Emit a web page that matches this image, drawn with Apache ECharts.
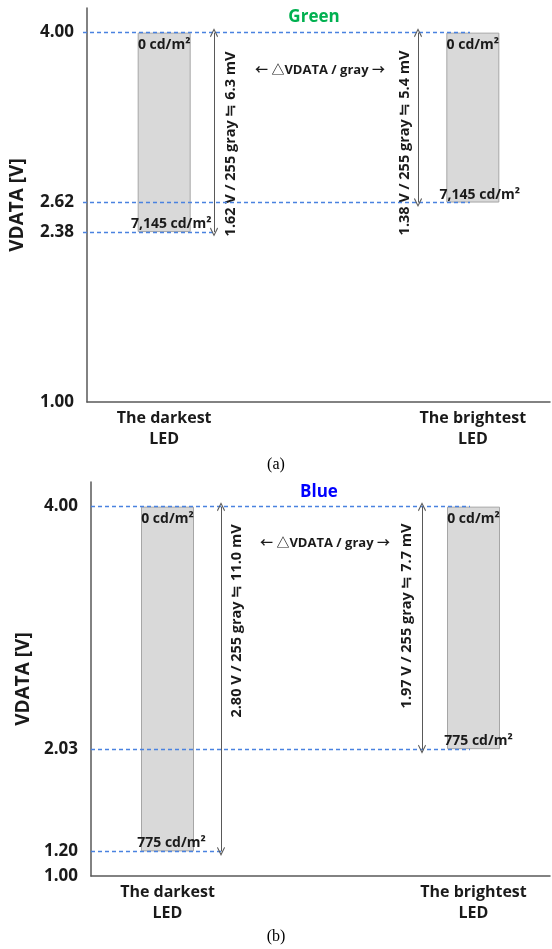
<!DOCTYPE html>
<html><head><meta charset="utf-8">
<script src="https://cdn.jsdelivr.net/npm/echarts@6/dist/echarts.min.js"></script>
<style>html,body{margin:0;padding:0;background:#fff}#c{width:552px;height:949px}</style>
</head><body><div id="c"></div>
<script>
// ---- data ----
const categories = ['The darkest\nLED', '', 'The brightest\nLED'];
// (a) Green
const greenLow = [2.38, null, 2.62];
const greenHigh = [4.00, null, 4.00];
const greenTopLum = ['0 cd/m²', '', '0 cd/m²'];
const greenBottomLum = ['7,145 cd/m²', '', '7,145 cd/m²'];
const greenTicks = [1.00, 2.38, 2.62, 4.00];
const greenSpans = ['1.62 V / 255 gray ≒ 6.3 mV', '1.38 V / 255 gray ≒ 5.4 mV'];
// (b) Blue
const blueLow = [1.20, null, 2.03];
const blueHigh = [4.00, null, 4.00];
const blueTopLum = ['0 cd/m²', '', '0 cd/m²'];
const blueBottomLum = ['775 cd/m²', '', '775 cd/m²'];
const blueTicks = [1.00, 1.20, 2.03, 4.00];
const blueSpans = ['2.80 V / 255 gray ≒ 11.0 mV', '1.97 V / 255 gray ≒ 7.7 mV'];
const axisMin = 1.0, axisMax = 4.2;

const FONT = "'Open Sans', 'Noto Sans CJK KR', sans-serif";
const AXIS_COLOR = '#595959';
const TEXT_COLOR = '#1a1a1a';
const DASH_COLOR = '#4a82e0';
const CHEVRON = 'path://M5,0 L10,9 L9,10 L5,2.6 L1,10 L0,9 Z';

const panels = [
  { low: greenLow, high: greenHigh, topLum: greenTopLum, botLum: greenBottomLum, ticks: greenTicks,
    grid: { left: 83, top: 8, width: 467, height: 394 }, nameGap: 60,
    arrowX: [214, 418], dashEnd: 470, botOffset: [7, 7] },
  { low: blueLow, high: blueHigh, topLum: blueTopLum, botLum: blueBottomLum, ticks: blueTicks,
    grid: { left: 91, top: 482, width: 459, height: 394 }, nameGap: 58,
    arrowX: [221, 422], dashEnd: 470, botOffset: [4, 5] }
];

const grids = [], xAxes = [], yAxes = [], series = [];
panels.forEach((p, i) => {
  grids.push(p.grid);
  xAxes.push({
    type: 'category', gridIndex: i, data: categories, boundaryGap: true,
    axisLine: { lineStyle: { color: AXIS_COLOR, width: 1.5 } },
    axisTick: { show: false },
    axisLabel: { interval: 0, color: TEXT_COLOR, fontFamily: FONT, fontWeight: 'bold', fontSize: 16, lineHeight: 21, margin: 6 }
  });
  yAxes.push({
    type: 'value', gridIndex: i, min: axisMin, max: axisMax,
    name: 'VDATA [V]', nameLocation: 'middle', nameGap: p.nameGap,
    nameTextStyle: { color: TEXT_COLOR, fontFamily: FONT, fontWeight: 'bold', fontSize: 19 },
    axisLine: { show: true, lineStyle: { color: AXIS_COLOR, width: 1.5 } },
    axisTick: { show: false },
    splitLine: { show: false },
    axisLabel: { customValues: p.ticks, formatter: v => v.toFixed(2), color: TEXT_COLOR,
                 fontFamily: FONT, fontWeight: 'bold', fontSize: 17, margin: 13 }
  });
  const left = p.grid.left;
  const dashLines = [
    [{ x: left, yAxis: p.high[0] }, { x: p.dashEnd, yAxis: p.high[0] }],
    [{ x: left, yAxis: p.low[2] }, { x: p.dashEnd, yAxis: p.low[2] }],
    [{ x: left, yAxis: p.low[0] }, { x: p.arrowX[0] + 2, yAxis: p.low[0] }]
  ];
  const arrowLines = [
    [{ x: p.arrowX[0], yAxis: p.high[0] }, { x: p.arrowX[0], yAxis: p.low[0] }],
    [{ x: p.arrowX[1], yAxis: p.high[2] }, { x: p.arrowX[1], yAxis: p.low[2] }]
  ];
  series.push({
    type: 'bar', xAxisIndex: i, yAxisIndex: i, stack: 's' + i, barWidth: 53,
    data: p.low, itemStyle: { color: 'rgba(0,0,0,0)' }, silent: true,
    label: { show: true, position: 'top', distance: 1, color: TEXT_COLOR, fontFamily: FONT, fontWeight: 'bold', fontSize: 14,
             formatter: d => p.botLum[d.dataIndex] },
    labelLayout: d => ({ dx: p.botOffset[d.dataIndex === 0 ? 0 : 1] }),
    markLine: { silent: true, animation: false, symbol: ['none', 'none'], label: { show: false },
                lineStyle: { color: DASH_COLOR, type: [4, 3], width: 1.3, opacity: 1 },
                emphasis: { disabled: true }, data: dashLines },
    z: 3
  });
  series.push({
    type: 'bar', xAxisIndex: i, yAxisIndex: i, stack: 's' + i, barWidth: 53,
    data: p.high.map((h, k) => h == null ? null : +(h - p.low[k]).toFixed(2)),
    itemStyle: { color: '#d9d9d9', borderColor: '#a6a6a6', borderWidth: 1 },
    label: { show: true, position: 'insideTop', distance: 5, color: TEXT_COLOR, fontFamily: FONT, fontWeight: 'bold', fontSize: 14,
             formatter: d => p.topLum[d.dataIndex] },
    markLine: { silent: true, animation: false, symbol: [CHEVRON, CHEVRON], symbolSize: [8, 9], label: { show: false },
                lineStyle: { color: AXIS_COLOR, type: 'solid', width: 1 },
                emphasis: { disabled: true }, data: arrowLines },
    z: 2
  });
});

function txt(x, y, text, opts) {
  return Object.assign({ type: 'text', x, y, silent: true,
    style: Object.assign({ text, align: 'center', verticalAlign: 'middle', fill: TEXT_COLOR,
      font: 'bold 13px ' + FONT }, opts && opts.style) }, opts && opts.extra);
}
const rot = { extra: { rotation: Math.PI / 2 }, style: { font: 'bold 14.5px ' + FONT } };
const graphic = [
  txt(314, 17, 'Green', { style: { fill: '#00b050', font: 'bold 17px ' + FONT } }),
  txt(320, 70, '← △VDATA / gray →'),
  txt(231, 144, greenSpans[0], rot),
  txt(405, 143, greenSpans[1], rot),
  txt(276, 465, '(a)', { style: { font: '16px "Liberation Serif", serif', fill: '#000' } }),
  txt(319, 492, 'Blue', { style: { fill: '#0000ff', font: 'bold 17px ' + FONT } }),
  txt(325, 543, '← △VDATA / gray →'),
  txt(237, 621, blueSpans[0], rot),
  txt(407, 616, blueSpans[1], rot),
  txt(276, 937, '(b)', { style: { font: '16px "Liberation Serif", serif', fill: '#000' } })
];

const chart = echarts.init(document.getElementById('c'), null, { renderer: 'canvas' });
chart.setOption({
  animation: false,
  backgroundColor: '#fff',
  grid: grids, xAxis: xAxes, yAxis: yAxes, series, graphic
});
</script></body></html>
